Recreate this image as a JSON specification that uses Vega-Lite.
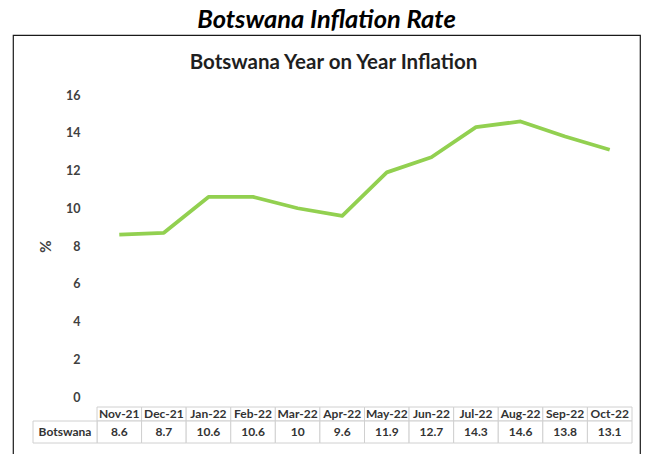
{
  "$schema": "https://vega.github.io/schema/vega-lite/v6.json",
  "width": 627,
  "height": 430,
  "padding": {"left": 13, "right": 11, "top": 7, "bottom": 0},
  "autosize": {"type": "pad"},
  "background": "white",
  "title": {"text": "Botswana Inflation Rate", "font": "Lato", "fontSize": 25.5, "fontWeight": "bold", "fontStyle": "italic", "color": "#000000", "offset": 2},
  "config": {"view": {"stroke": "#1a1a1a", "strokeWidth": 1.2}, "font": "Lato"},
  "datasets": {
    "infl": [
      {"month": "Nov-21", "series": "Botswana", "value": 8.6},
      {"month": "Dec-21", "series": "Botswana", "value": 8.7},
      {"month": "Jan-22", "series": "Botswana", "value": 10.6},
      {"month": "Feb-22", "series": "Botswana", "value": 10.6},
      {"month": "Mar-22", "series": "Botswana", "value": 10},
      {"month": "Apr-22", "series": "Botswana", "value": 9.6},
      {"month": "May-22", "series": "Botswana", "value": 11.9},
      {"month": "Jun-22", "series": "Botswana", "value": 12.7},
      {"month": "Jul-22", "series": "Botswana", "value": 14.3},
      {"month": "Aug-22", "series": "Botswana", "value": 14.6},
      {"month": "Sep-22", "series": "Botswana", "value": 13.8},
      {"month": "Oct-22", "series": "Botswana", "value": 13.1}
    ],
    "series": [{"series": "Botswana"}]
  },
  "data": {"name": "infl"},
  "resolve": {"scale": {"x": "independent", "y": "independent"}, "axis": {"x": "independent", "y": "independent"}},
  "layer": [
    {
      "mark": {"type": "line", "color": "#92d050", "strokeWidth": 3.75, "strokeJoin": "round", "strokeCap": "butt"},
      "encoding": {
        "x": {"field": "month", "type": "ordinal", "sort": null,
          "scale": {"range": [84, 619], "paddingInner": 0, "paddingOuter": 0},
          "axis": {"orient": "top", "title": "Botswana Year on Year Inflation", "labels": false, "ticks": false, "domain": false, "offset": -37, "titlePadding": 0, "titleX": 320, "titleAlign": "center", "titleFont": "Lato", "titleFontSize": 20.5, "titleFontWeight": "bold", "titleColor": "#1f1f1f"}},
        "y": {"field": "value", "type": "quantitative",
          "scale": {"domain": [0, 16], "range": [362, 60], "nice": false, "zero": false},
          "axis": {"values": [0, 2, 4, 6, 8, 10, 12, 14, 16], "grid": false, "domain": false, "ticks": false, "offset": -71, "labelPadding": 4, "labelFont": "Lato", "labelFontSize": 12.5, "labelFontWeight": "bold", "labelColor": "#404040", "title": "%", "titleFont": "Lato", "titleFontSize": 15, "titleFontWeight": "bold", "titleColor": "#404040", "titlePadding": 12}}
      }
    },
    {
      "mark": {"type": "rect", "fill": "white", "stroke": "#d0d0d0", "strokeWidth": 1},
      "encoding": {
        "x": {"field": "month", "type": "ordinal", "sort": null, "scale": {"range": [84, 619], "paddingInner": 0, "paddingOuter": 0}, "axis": null},
        "y": {"datum": "header", "type": "nominal", "scale": {"range": [372, 386], "paddingInner": 0, "paddingOuter": 0}, "axis": null}
      }
    },
    {
      "mark": {"type": "text", "font": "Lato", "fontSize": 12, "fontWeight": "bold", "color": "#333333", "baseline": "middle", "align": "center"},
      "encoding": {
        "x": {"field": "month", "type": "ordinal", "sort": null, "scale": {"range": [84, 619], "paddingInner": 0, "paddingOuter": 0}, "axis": null},
        "y": {"datum": "header", "type": "nominal", "scale": {"range": [372, 386], "paddingInner": 0, "paddingOuter": 0}, "axis": null},
        "text": {"field": "month", "type": "nominal"}
      }
    },
    {
      "mark": {"type": "rect", "fill": "white", "stroke": "#d0d0d0", "strokeWidth": 1},
      "encoding": {
        "x": {"field": "month", "type": "ordinal", "sort": null, "scale": {"range": [84, 619], "paddingInner": 0, "paddingOuter": 0}, "axis": null},
        "y": {"datum": "row", "type": "nominal", "scale": {"range": [386, 408], "paddingInner": 0, "paddingOuter": 0}, "axis": null}
      }
    },
    {
      "mark": {"type": "text", "font": "Lato", "fontSize": 12, "fontWeight": "bold", "color": "#333333", "baseline": "middle", "align": "center"},
      "encoding": {
        "x": {"field": "month", "type": "ordinal", "sort": null, "scale": {"range": [84, 619], "paddingInner": 0, "paddingOuter": 0}, "axis": null},
        "y": {"datum": "row", "type": "nominal", "scale": {"range": [386, 408], "paddingInner": 0, "paddingOuter": 0}, "axis": null},
        "text": {"field": "value", "type": "nominal"}
      }
    },
    {
      "data": {"name": "series"},
      "mark": {"type": "rect", "fill": "white", "stroke": "#d0d0d0", "strokeWidth": 1},
      "encoding": {
        "x": {"field": "series", "type": "nominal", "scale": {"range": [20, 84], "paddingInner": 0, "paddingOuter": 0}, "axis": null},
        "y": {"datum": "row", "type": "nominal", "scale": {"range": [386, 408], "paddingInner": 0, "paddingOuter": 0}, "axis": null}
      }
    },
    {
      "data": {"name": "series"},
      "mark": {"type": "text", "font": "Lato", "fontSize": 12, "fontWeight": "bold", "color": "#333333", "baseline": "middle", "align": "center"},
      "encoding": {
        "x": {"field": "series", "type": "nominal", "scale": {"range": [20, 84], "paddingInner": 0, "paddingOuter": 0}, "axis": null},
        "y": {"datum": "row", "type": "nominal", "scale": {"range": [386, 408], "paddingInner": 0, "paddingOuter": 0}, "axis": null},
        "text": {"field": "series", "type": "nominal"}
      }
    }
  ]
}
